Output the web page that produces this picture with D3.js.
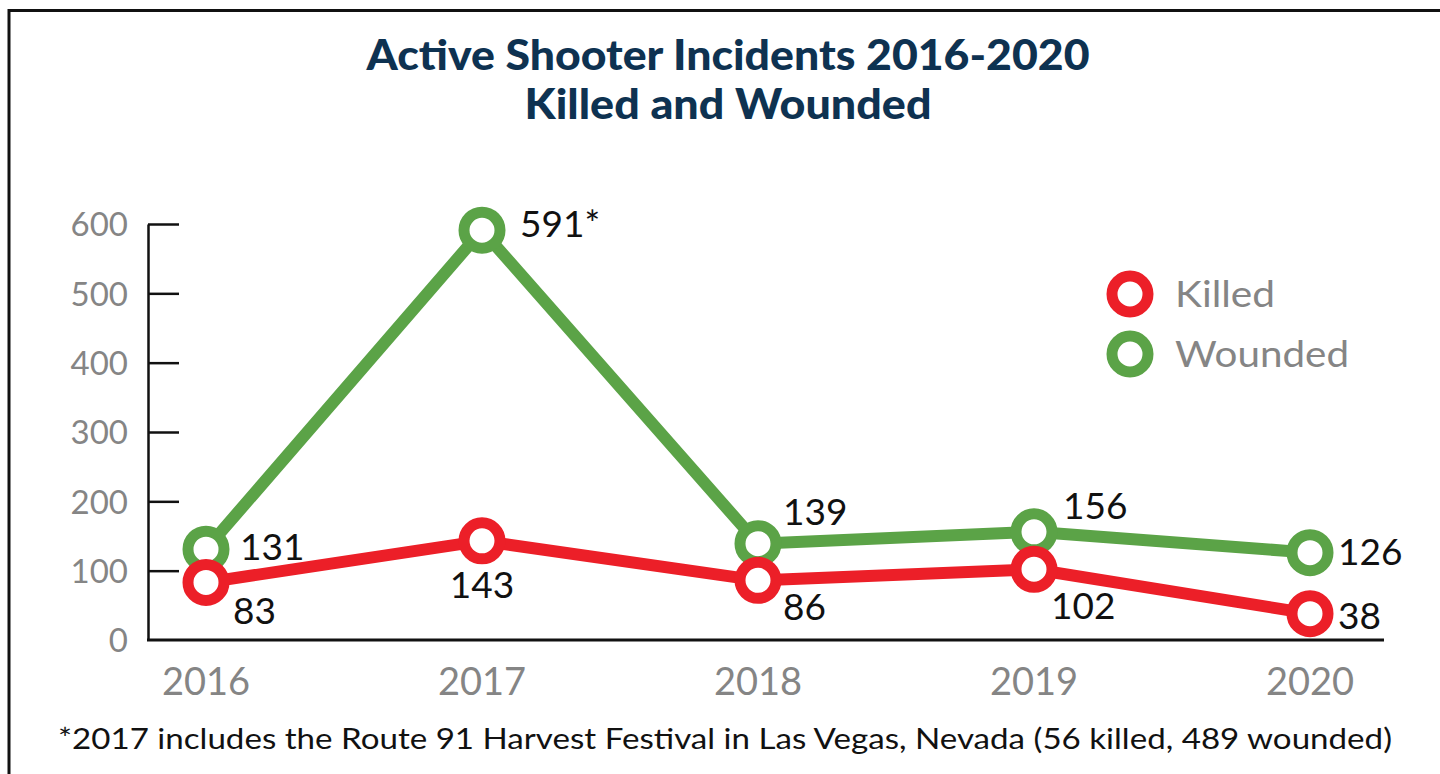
<!DOCTYPE html>
<html>
<head>
  <meta charset="utf-8">
  <script src="https://d3js.org/d3.v7.min.js"></script>
  <style>
    body { margin: 0; background: #fff; }
    svg { display: block; }
    text { font-family: Lato, "Open Sans", sans-serif; }
  </style>
</head>
<body>
<script>
  // chart data
  var years = ["2016", "2017", "2018", "2019", "2020"];
  var killed = [83, 143, 86, 102, 38];
  var wounded = [131, 591, 139, 156, 126];
  var woundedLabels = ["131", "591*", "139", "156", "126"];
  var killedLabels = ["83", "143", "86", "102", "38"];
  var yTicks = [0, 100, 200, 300, 400, 500, 600];
  var titleLines = ["Active Shooter Incidents 2016-2020", "Killed and Wounded"];
  var note = "*2017 includes the Route 91 Harvest Festival in Las Vegas, Nevada (56 killed, 489 wounded)";

  var red = "#ec1f28", green = "#5ba347", navy = "#0e3251", grey = "#858585";

  var svg = d3.select("body").append("svg")
      .attr("width", 1440)
      .attr("height", 774);

  // frame: top and left edges only
  svg.append("line").attr("x1", 8).attr("x2", 1440).attr("y1", 10.5).attr("y2", 10.5)
      .attr("stroke", "#111").attr("stroke-width", 3);
  svg.append("line").attr("x1", 9).attr("x2", 9).attr("y1", 9).attr("y2", 774)
      .attr("stroke", "#111").attr("stroke-width", 3);

  // title (stretched to the width of the original's wider typeface)
  var titleWidths = [723, 407];
  svg.selectAll(".title")
      .data(titleLines)
      .enter().append("text")
      .attr("class", "title")
      .attr("x", 728)
      .attr("y", function (d, i) { return 70 + i * 49; })
      .attr("text-anchor", "middle")
      .attr("textLength", function (d, i) { return titleWidths[i]; })
      .attr("lengthAdjust", "spacingAndGlyphs")
      .style("font-size", "42px")
      .style("font-weight", 900)
      .style("fill", navy)
      .text(function (d) { return d; });

  var x = d3.scalePoint().domain(years).range([206, 1310]);
  var y = d3.scaleLinear().domain([0, 600]).range([640, 224]);

  // y axis, ticks pointing into the plot
  var yAxis = svg.append("g")
      .attr("transform", "translate(148,0)")
      .call(d3.axisLeft(y).tickValues(yTicks).tickSizeInner(-31).tickSizeOuter(0).tickPadding(20));
  yAxis.select(".domain").attr("stroke", "#111").attr("stroke-width", 2.5);
  yAxis.selectAll(".tick line").attr("stroke", "#111").attr("stroke-width", 2.5)
      .filter(function (d) { return d === 0; }).remove();
  yAxis.selectAll(".tick text")
      .attr("dy", "0.36em")
      .style("font-size", "33px")
      .style("font-family", "Lato, sans-serif")
      .style("fill", grey);

  // x axis baseline and year labels
  svg.append("line")
      .attr("x1", 147).attr("x2", 1384)
      .attr("y1", y(0)).attr("y2", y(0))
      .attr("stroke", "#111").attr("stroke-width", 3);
  svg.selectAll(".year")
      .data(years)
      .enter().append("text")
      .attr("x", function (d) { return x(d); })
      .attr("y", 695)
      .attr("text-anchor", "middle")
      .style("font-size", "38px")
      .style("fill", grey)
      .text(function (d) { return d; });

  var line = d3.line()
      .x(function (d, i) { return x(years[i]); })
      .y(function (d) { return y(d); });

  function drawSeries(values, color) {
    svg.append("path")
        .datum(values)
        .attr("d", line)
        .attr("fill", "none")
        .attr("stroke", color)
        .attr("stroke-width", 12)
        .attr("stroke-linejoin", "round");
    svg.selectAll(null)
        .data(values)
        .enter().append("circle")
        .attr("cx", function (d, i) { return x(years[i]); })
        .attr("cy", function (d) { return y(d); })
        .attr("r", 18)
        .attr("fill", "#fff")
        .attr("stroke", color)
        .attr("stroke-width", 11);
  }
  drawSeries(wounded, green);
  drawSeries(killed, red);

  // value labels, offsets relative to each marker
  var woundedOff = [[34, 11], [38, 7], [25, -19], [29, -13], [28, 12]];
  var killedOff = [[27, 42], [0, 57], [25, 40], [17, 50], [28, 15]];
  function labels(values, text, off, anchorMid) {
    svg.selectAll(null)
        .data(values)
        .enter().append("text")
        .attr("x", function (d, i) { return x(years[i]) + off[i][0]; })
        .attr("y", function (d, i) { return y(d) + off[i][1]; })
        .attr("text-anchor", function (d, i) { return anchorMid[i] ? "middle" : "start"; })
        .style("font-size", "37px")
        .style("fill", "#111")
        .text(function (d, i) { return text[i]; });
  }
  labels(wounded, woundedLabels, woundedOff, [false, false, false, false, false]);
  labels(killed, killedLabels, killedOff, [false, true, false, false, false]);

  // legend
  var legend = svg.selectAll(".legend")
      .data([["Killed", red, 100], ["Wounded", green, 174]])
      .enter().append("g")
      .attr("transform", function (d, i) { return "translate(1130," + (294 + i * 60) + ")"; });
  legend.append("circle")
      .attr("r", 18)
      .attr("fill", "#fff")
      .attr("stroke", function (d) { return d[1]; })
      .attr("stroke-width", 11);
  legend.append("text")
      .attr("x", 45)
      .attr("y", 13)
      .attr("textLength", function (d) { return d[2]; })
      .attr("lengthAdjust", "spacingAndGlyphs")
      .style("font-size", "37px")
      .style("fill", grey)
      .text(function (d) { return d[0]; });

  // footnote
  svg.append("text")
      .attr("x", 58)
      .attr("y", 749)
      .attr("textLength", 1334)
      .attr("lengthAdjust", "spacingAndGlyphs")
      .style("font-size", "29px")
      .style("fill", "#111")
      .text(note);
</script>
</body>
</html>
